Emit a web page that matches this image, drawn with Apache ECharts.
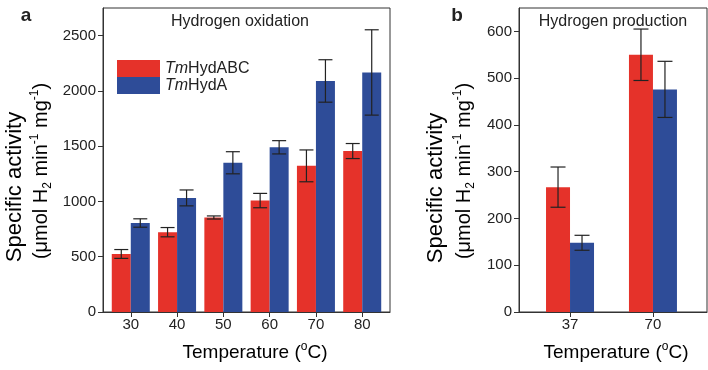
<!DOCTYPE html>
<html>
<head>
<meta charset="utf-8">
<style>
  html, body { margin: 0; padding: 0; background: #fff; }
  #chart { width: 708px; height: 370px; }
</style>
<script src="https://cdn.jsdelivr.net/npm/echarts@6/dist/echarts.min.js"></script>
</head>
<body>
<div id="chart"></div>
<script>
  // panel a: hydrogen oxidation
  var tempsA = [30, 40, 50, 60, 70, 80];
  var abcA = [525, 722, 855, 1008, 1322, 1456];
  var abcErrA = [40, 42, 14, 65, 144, 68];
  var hydaA = [805, 1032, 1350, 1490, 2090, 2167];
  var hydaErrA = [38, 72, 100, 60, 192, 386];
  var yTicksA = [0, 500, 1000, 1500, 2000, 2500];

  // panel b: hydrogen production
  var tempsB = [37, 70];
  var abcB = [267, 550];
  var abcErrB = [43, 55];
  var hydaB = [148, 476];
  var hydaErrB = [16, 60];
  var yTicksB = [0, 100, 200, 300, 400, 500, 600];

  var RED = '#e5322a';
  var BLUE = '#2e4c98';
  var INK = '#222';
  var FONT = '"Liberation Sans", Arial, Helvetica, sans-serif';

  function pairs(xs, ys) {
    return xs.map(function (x, i) { return [x, ys[i]]; });
  }
  function triples(xs, ys, es) {
    return xs.map(function (x, i) { return [x, ys[i], es[i]]; });
  }

  // error bar drawn centred on a bar, shifted by half a bar width
  function errBars(shift, cap) {
    return function (params, api) {
      var x = api.value(0), v = api.value(1), e = api.value(2);
      var hi = api.coord([x, v + e]);
      var lo = api.coord([x, v - e]);
      var cx = hi[0] + shift;
      var st = { stroke: INK, lineWidth: 1.2 };
      return {
        type: 'group',
        children: [
          { type: 'line', shape: { x1: cx, y1: hi[1], x2: cx, y2: lo[1] }, style: st },
          { type: 'line', shape: { x1: cx - cap / 2, y1: hi[1], x2: cx + cap / 2, y2: hi[1] }, style: st },
          { type: 'line', shape: { x1: cx - cap / 2, y1: lo[1], x2: cx + cap / 2, y2: lo[1] }, style: st }
        ]
      };
    };
  }

  var labelStyle = { color: INK, fontSize: 15, fontFamily: FONT, formatter: function (v) { return String(v); } };
  var axisLineStyle = { show: true, lineStyle: { color: '#333', width: 1 } };
  var tickStyle = { show: true, inside: false, length: 5, lineStyle: { color: '#333', width: 1 } };

  function xAxis(grid, min, max, ticks) {
    return {
      type: 'value', gridIndex: grid, min: min, max: max,
      axisLine: axisLineStyle,
      axisTick: Object.assign({ customValues: ticks }, tickStyle),
      axisLabel: Object.assign({ customValues: ticks, margin: 5 }, labelStyle),
      splitLine: { show: false }
    };
  }
  function yAxis(grid, max, ticks) {
    return {
      type: 'value', gridIndex: grid, min: 0, max: max,
      axisLine: axisLineStyle,
      axisTick: Object.assign({ customValues: ticks }, tickStyle),
      axisLabel: Object.assign({ customValues: ticks, margin: 7 }, labelStyle),
      splitLine: { show: false }
    };
  }

  var titleRich = {
    t: { fontSize: 19, fontFamily: FONT, color: INK, lineHeight: 24 },
    s: { fontSize: 12, fontFamily: FONT, color: INK, verticalAlign: 'top', lineHeight: 24 }
  };
  var y1Rich = {
    t: { fontSize: 22, fontFamily: FONT, color: INK, lineHeight: 27 }
  };
  var y2Rich = {
    t: { fontSize: 20, fontFamily: FONT, color: INK, lineHeight: 25 },
    sub: { fontSize: 12, fontFamily: FONT, color: INK, verticalAlign: 'bottom', lineHeight: 25 },
    sup: { fontSize: 12, fontFamily: FONT, color: INK, verticalAlign: 'top', lineHeight: 25 }
  };
  var yLine1 = '{t|Specific activity}';
  var yLine2 = '{t|(\u03bcmol H}{sub|2}{t| min}{sup|-1}{t| mg}{sup|-1}{t|)}';
  var xTitle = '{t|Temperature (}{s|o}{t|C)}';

  function txt(x, y, text, rich, rot) {
    return {
      type: 'text', x: x, y: y, rotation: rot || 0,
      style: { text: text, rich: rich, align: 'center', verticalAlign: 'middle' }
    };
  }
  function plain(x, y, text, size, weight) {
    return {
      type: 'text', x: x, y: y,
      style: { text: text, fontSize: size, fontWeight: weight || 'normal', fontFamily: FONT,
               fill: INK, align: 'center', verticalAlign: 'middle' }
    };
  }

  var chart = echarts.init(document.getElementById('chart'));
  var option = {
    animation: false,
    backgroundColor: '#fff',
    grid: [
      { left: 103, top: 8, width: 287, height: 304, show: true, borderColor: '#333', borderWidth: 1 },
      { left: 519, top: 8, width: 188, height: 304, show: true, borderColor: '#333', borderWidth: 1 }
    ],
    xAxis: [xAxis(0, 24, 86, tempsA), xAxis(1, 16.7, 91.5, tempsB)],
    yAxis: [yAxis(0, 2750, yTicksA), yAxis(1, 650, yTicksB)],
    legend: {
      data: ['TmHydABC', 'TmHydA'],
      orient: 'vertical', left: 117, top: 60, padding: 0,
      itemWidth: 43, itemHeight: 17, itemGap: 0,
      icon: 'rect',
      formatter: function (name) { return '{i|Tm}{n|' + name.slice(2) + '}'; },
      textStyle: {
        color: INK, fontSize: 16, fontFamily: FONT, lineHeight: 17,
        rich: {
          i: { fontStyle: 'italic', fontSize: 16, fontFamily: FONT, color: INK, lineHeight: 17 },
          n: { fontSize: 16, fontFamily: FONT, color: INK, lineHeight: 17 }
        }
      }
    },
    series: [
      { name: 'TmHydABC', type: 'bar', xAxisIndex: 0, yAxisIndex: 0, barWidth: 19, barGap: '0%',
        itemStyle: { color: RED }, data: pairs(tempsA, abcA) },
      { name: 'TmHydA', type: 'bar', xAxisIndex: 0, yAxisIndex: 0, barWidth: 19, barGap: '0%',
        itemStyle: { color: BLUE }, data: pairs(tempsA, hydaA) },
      { name: 'TmHydABC', type: 'bar', xAxisIndex: 1, yAxisIndex: 1, barWidth: 24, barGap: '0%',
        itemStyle: { color: RED }, data: pairs(tempsB, abcB) },
      { name: 'TmHydA', type: 'bar', xAxisIndex: 1, yAxisIndex: 1, barWidth: 24, barGap: '0%',
        itemStyle: { color: BLUE }, data: pairs(tempsB, hydaB) },
      { type: 'custom', xAxisIndex: 0, yAxisIndex: 0, renderItem: errBars(-9.5, 14), z: 5,
        encode: { x: 0, y: 1 }, data: triples(tempsA, abcA, abcErrA) },
      { type: 'custom', xAxisIndex: 0, yAxisIndex: 0, renderItem: errBars(9.5, 14), z: 5,
        encode: { x: 0, y: 1 }, data: triples(tempsA, hydaA, hydaErrA) },
      { type: 'custom', xAxisIndex: 1, yAxisIndex: 1, renderItem: errBars(-12, 15), z: 5,
        encode: { x: 0, y: 1 }, data: triples(tempsB, abcB, abcErrB) },
      { type: 'custom', xAxisIndex: 1, yAxisIndex: 1, renderItem: errBars(12, 15), z: 5,
        encode: { x: 0, y: 1 }, data: triples(tempsB, hydaB, hydaErrB) }
    ],
    graphic: [
      plain(26, 16, 'a', 19, 'bold'),
      plain(457, 16, 'b', 19, 'bold'),
      plain(240, 22, 'Hydrogen oxidation', 16),
      plain(613, 22, 'Hydrogen production', 16),
      txt(255, 353, xTitle, titleRich),
      txt(616, 353, xTitle, titleRich),
      txt(15, 187, yLine1, y1Rich, Math.PI / 2),
      txt(41, 171, yLine2, y2Rich, Math.PI / 2),
      txt(436, 188, yLine1, y1Rich, Math.PI / 2),
      txt(464, 171, yLine2, y2Rich, Math.PI / 2)
    ]
  };
  chart.setOption(option);
</script>
</body>
</html>
